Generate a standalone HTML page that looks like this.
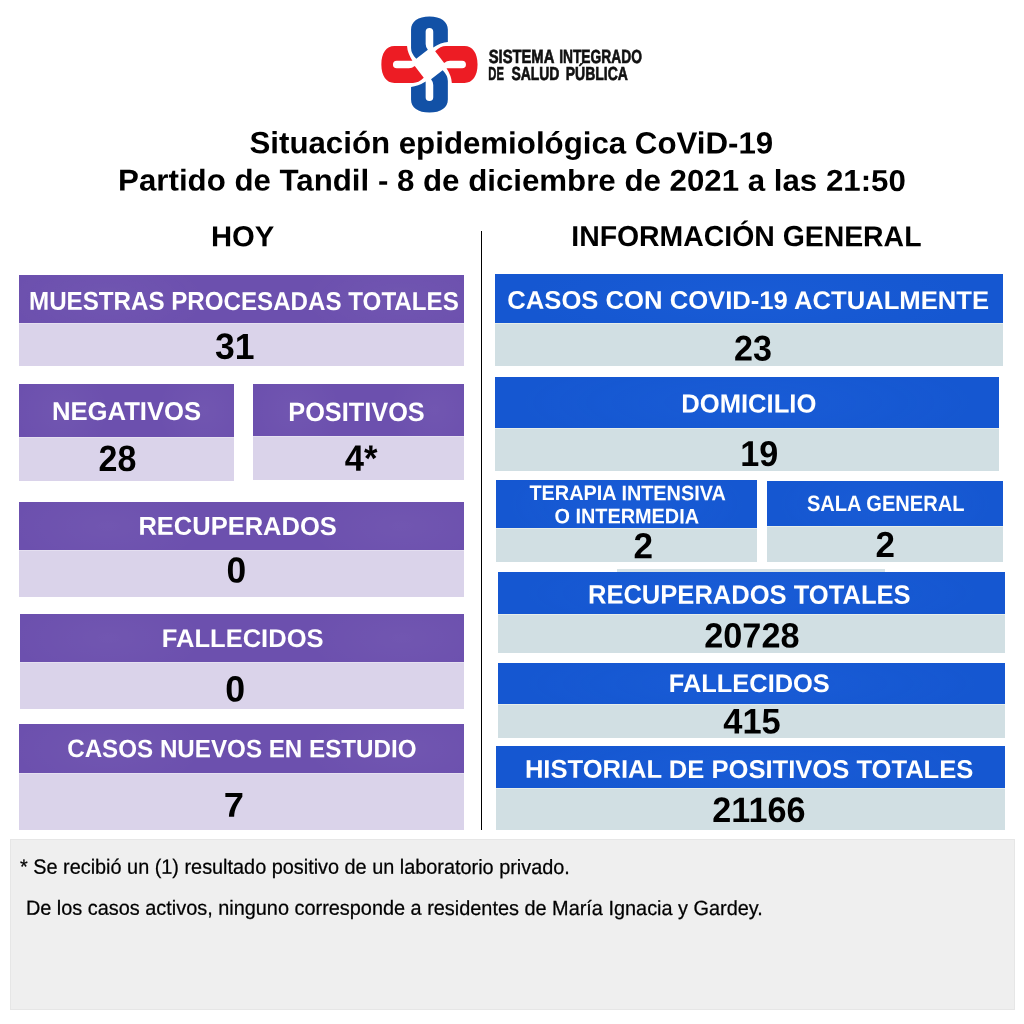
<!DOCTYPE html>
<html lang="es"><head><meta charset="utf-8"><title>Situación epidemiológica CoViD-19 - Partido de Tandil</title>
<style>
html,body{margin:0;padding:0;background:#fff}
#page{position:relative;width:1024px;height:1024px;overflow:hidden;background:#fff;font-family:"Liberation Sans",sans-serif}
h1,h2,p,strong{margin:0;padding:0}
.b{position:absolute}
.hp{background:radial-gradient(ellipse 22% 90% at 20% 50%,rgba(255,255,255,.035),rgba(255,255,255,0)),radial-gradient(ellipse 22% 90% at 86% 50%,rgba(255,255,255,.035),rgba(255,255,255,0)),#6c50ae}
.vp{background:#dad3ea;box-shadow:inset 0 1px 0 rgba(255,255,255,.28)}
.hb{background:radial-gradient(ellipse 45% 100% at 50% 50%,rgba(60,130,255,.10),rgba(60,130,255,0)),#1557d1}
.vb{background:#d1dfe3;box-shadow:inset 0 1px 0 rgba(255,255,240,.45)}
.t{position:absolute;left:0;top:0;white-space:pre;line-height:1em;transform-origin:0 0;display:block}
#note{position:absolute;left:9.5px;top:839px;width:1005.5px;height:171px;box-sizing:border-box;background:#efefef;border:1px solid #e6e6e6}
#vline{position:absolute;left:481px;top:231px;width:1.2px;height:599px;background:#000}
#logo{position:absolute;left:0;top:0}
#strip{left:617px;top:569.3px;width:268px;height:2.7px;background:#d6e2e6}
</style></head><body>
<div id="page">
<header>
<svg id="logo" width="1024" height="130" viewBox="0 0 1024 130">
<defs><path id="pc" d="M-18.4,-35 C-18.4,-43.1 -11.4,-48.1 0,-48.1 C11.4,-48.1 18.4,-43.1 18.4,-35 L18.4,-22.4 Q11.5,-22 3.8,-17.1 L3.8,-32.7 A3.8,3.8 0 0 0 -3.8,-32.7 L-3.8,-20.5 Q-3.8,-17.3 -1.6,-14.7 L-13.2,-5.7 Q-18.4,-11 -18.4,-16.5 Z"/></defs>
<g transform="translate(429.45,64.5)">
<use href="#pc" fill="#1251a6"/>
<use href="#pc" fill="#ed1c24" transform="rotate(90)"/>
<use href="#pc" fill="#1251a6" transform="rotate(180)"/>
<use href="#pc" fill="#ed1c24" transform="rotate(270)"/>
</g>
</svg>
<div class="org"><span class="t" style="font-size:19.0px;font-weight:bold;color:#111;-webkit-text-stroke:0.65px #111;transform:translate(488.72px,46.58px) rotate(.03deg) scaleX(0.7769)">SISTEMA</span> <span class="t" style="font-size:19.0px;font-weight:bold;color:#111;-webkit-text-stroke:0.65px #111;transform:translate(559.17px,46.58px) rotate(.03deg) scaleX(0.7255)">INTEGRADO</span><br><span class="t" style="font-size:18.84px;font-weight:bold;color:#111;-webkit-text-stroke:0.65px #111;transform:translate(488.35px,64.60px) rotate(.03deg) scaleX(0.5948)">DE</span> <span class="t" style="font-size:18.84px;font-weight:bold;color:#111;-webkit-text-stroke:0.65px #111;transform:translate(511.42px,64.59px) rotate(.03deg) scaleX(0.7403)">SALUD</span> <span class="t" style="font-size:18.84px;font-weight:bold;color:#111;-webkit-text-stroke:0.65px #111;transform:translate(565.71px,64.58px) rotate(.03deg) scaleX(0.7429)">PÚBLICA</span></div>
<h1 class="t" style="font-size:30.63px;font-weight:bold;color:#000;transform:translate(249.48px,127.31px) rotate(.03deg) scaleX(1.0201)">Situación epidemiológica CoViD-19</h1>
<h1 class="t" style="font-size:30.14px;font-weight:bold;color:#000;transform:translate(118.12px,165.49px) rotate(.03deg) scaleX(1.0370)">Partido de Tandil - 8 de diciembre de 2021 a las 21:50</h1>
</header>
<main>
<section id="hoy">
<h2 class="t" style="font-size:28.86px;font-weight:bold;color:#000;transform:translate(210.93px,222.17px) rotate(.03deg) scaleX(1.0126)">HOY</h2>
<article class="card">
<div class="b hp" style="left:19px;top:275px;width:445px;height:48.4px"></div>
<span class="t lbl" style="font-size:25.71px;font-weight:bold;color:#fff;transform:translate(29.03px,288.78px) rotate(.03deg) scaleX(0.9394)">MUESTRAS PROCESADAS TOTALES</span>
<div class="b vp" style="left:18.5px;top:323.4px;width:445.5px;height:42.8px"></div>
<strong class="t num" style="font-size:36.48px;font-weight:bold;color:#000;transform:translate(215.00px,328.87px) rotate(.03deg) scaleX(0.9750)">31</strong>
</article>
<article class="card">
<div class="b hp" style="left:19px;top:384px;width:215px;height:52.5px"></div>
<span class="t lbl" style="font-size:25.71px;font-weight:bold;color:#fff;transform:translate(51.93px,398.95px) rotate(.03deg) scaleX(0.9982)">NEGATIVOS</span>
<div class="b vp" style="left:19px;top:436.5px;width:215px;height:44.5px"></div>
<strong class="t num" style="font-size:36.57px;font-weight:bold;color:#000;transform:translate(98.53px,440.93px) rotate(.03deg) scaleX(0.9297)">28</strong>
</article>
<article class="card">
<div class="b hp" style="left:253px;top:384px;width:211px;height:51.5px"></div>
<span class="t lbl" style="font-size:26.43px;font-weight:bold;color:#fff;transform:translate(288.27px,398.98px) rotate(.03deg) scaleX(0.9582)">POSITIVOS</span>
<div class="b vp" style="left:253px;top:435.5px;width:211px;height:44.0px"></div>
<strong class="t num" style="font-size:36.67px;font-weight:bold;color:#000;transform:translate(344.74px,440.79px) rotate(.03deg) scaleX(0.9438)">4*</strong>
</article>
<article class="card">
<div class="b hp" style="left:19px;top:502px;width:445px;height:47.5px"></div>
<span class="t lbl" style="font-size:25.94px;font-weight:bold;color:#fff;transform:translate(138.39px,513.82px) rotate(.03deg) scaleX(0.9832)">RECUPERADOS</span>
<div class="b vp" style="left:19px;top:549.5px;width:445px;height:47.5px"></div>
<strong class="t num" style="font-size:36.06px;font-weight:bold;color:#000;transform:translate(226.56px,552.41px) rotate(.03deg) scaleX(0.9819)">0</strong>
</article>
<article class="card">
<div class="b hp" style="left:20px;top:614px;width:444px;height:47.75px"></div>
<span class="t lbl" style="font-size:25.57px;font-weight:bold;color:#fff;transform:translate(161.81px,625.96px) rotate(.03deg) scaleX(0.9992)">FALLECIDOS</span>
<div class="b vp" style="left:20px;top:661.75px;width:444px;height:47.25px"></div>
<strong class="t num" style="font-size:36.48px;font-weight:bold;color:#000;transform:translate(225.36px,671.39px) rotate(.03deg) scaleX(0.9785)">0</strong>
</article>
<article class="card">
<div class="b hp" style="left:19px;top:724px;width:445px;height:49px"></div>
<span class="t lbl" style="font-size:25.07px;font-weight:bold;color:#fff;transform:translate(67.21px,736.11px) rotate(.03deg) scaleX(0.9647)">CASOS NUEVOS EN ESTUDIO</span>
<div class="b vp" style="left:19px;top:773px;width:445px;height:57.4px"></div>
<strong class="t num" style="font-size:34.43px;font-weight:bold;color:#000;transform:translate(223.76px,787.85px) rotate(.03deg) scaleX(1.0547)">7</strong>
</article>
</section>
<div id="vline"></div>
<section id="general">
<h2 class="t" style="font-size:28.86px;font-weight:bold;color:#000;transform:translate(571.29px,222.01px) rotate(.03deg) scaleX(0.9839)">INFORMACIÓN GENERAL</h2>
<div class="b" id="strip"></div>
<article class="card">
<div class="b hb" style="left:495.3px;top:274.3px;width:507.7px;height:48.4px"></div>
<span class="t lbl" style="font-size:25.49px;font-weight:bold;color:#fff;transform:translate(507.34px,287.77px) rotate(.03deg) scaleX(1.0055)">CASOS CON COVID-19 ACTUALMENTE</span>
<div class="b vb" style="left:495.3px;top:322.7px;width:507.7px;height:42.9px"></div>
<strong class="t num" style="font-size:35.71px;font-weight:bold;color:#000;transform:translate(733.94px,331.51px) rotate(.03deg) scaleX(0.9548)">23</strong>
</article>
<article class="card">
<div class="b hb" style="left:495px;top:377px;width:504.25px;height:51px"></div>
<span class="t lbl" style="font-size:26.09px;font-weight:bold;color:#fff;transform:translate(681.27px,390.47px) rotate(.03deg) scaleX(0.9815)">DOMICILIO</span>
<div class="b vb" style="left:495px;top:428px;width:504.25px;height:43px"></div>
<strong class="t num" style="font-size:35.94px;font-weight:bold;color:#000;transform:translate(740.33px,435.93px) rotate(.03deg) scaleX(0.9515)">19</strong>
</article>
<article class="card">
<div class="b hb" style="left:495.75px;top:480px;width:261.25px;height:47.5px"></div>
<span class="t lbl" style="font-size:21.0px;font-weight:bold;color:#fff;transform:translate(529.46px,482.08px) rotate(.03deg) scaleX(0.9455)">TERAPIA INTENSIVA</span>
<span class="t lbl" style="font-size:20.93px;font-weight:bold;color:#fff;transform:translate(554.53px,506.31px) rotate(.03deg) scaleX(0.9489)">O INTERMEDIA</span>
<div class="b vb" style="left:495.75px;top:527.5px;width:261.25px;height:34.5px"></div>
<strong class="t num" style="font-size:36.21px;font-weight:bold;color:#000;transform:translate(633.48px,528.15px) rotate(.03deg) scaleX(0.9700)">2</strong>
</article>
<article class="card">
<div class="b hb" style="left:767px;top:480.5px;width:236px;height:45.5px"></div>
<span class="t lbl" style="font-size:22.18px;font-weight:bold;color:#fff;transform:translate(806.90px,492.99px) rotate(.03deg) scaleX(0.9052)">SALA GENERAL</span>
<div class="b vb" style="left:767px;top:526px;width:236px;height:35.75px"></div>
<strong class="t num" style="font-size:36.14px;font-weight:bold;color:#000;transform:translate(875.62px,526.90px) rotate(.03deg) scaleX(0.9690)">2</strong>
</article>
<article class="card">
<div class="b hb" style="left:497.5px;top:572px;width:507.5px;height:41.75px"></div>
<span class="t lbl" style="font-size:26.52px;font-weight:bold;color:#fff;transform:translate(587.95px,581.58px) rotate(.03deg) scaleX(0.9633)">RECUPERADOS TOTALES</span>
<div class="b vb" style="left:497.5px;top:613.75px;width:507.5px;height:38.75px"></div>
<strong class="t num" style="font-size:35.0px;font-weight:bold;color:#000;transform:translate(704.31px,617.40px) rotate(.03deg) scaleX(0.9779)">20728</strong>
</article>
<article class="card">
<div class="b hb" style="left:497.5px;top:662.5px;width:507.5px;height:41.75px"></div>
<span class="t lbl" style="font-size:25.29px;font-weight:bold;color:#fff;transform:translate(668.83px,670.94px) rotate(.03deg) scaleX(1.0053)">FALLECIDOS</span>
<div class="b vb" style="left:497.5px;top:704.25px;width:507.5px;height:33.25px"></div>
<strong class="t num" style="font-size:35.65px;font-weight:bold;color:#000;transform:translate(723.32px,704.39px) rotate(.03deg) scaleX(0.9666)">415</strong>
</article>
<article class="card">
<div class="b hb" style="left:495.5px;top:746px;width:509.5px;height:42px"></div>
<span class="t lbl" style="font-size:25.64px;font-weight:bold;color:#fff;transform:translate(524.90px,756.81px) rotate(.03deg) scaleX(0.9978)">HISTORIAL DE POSITIVOS TOTALES</span>
<div class="b vb" style="left:495.5px;top:788px;width:509.5px;height:42px"></div>
<strong class="t num" style="font-size:35.36px;font-weight:bold;color:#000;transform:translate(712.28px,791.92px) rotate(.03deg) scaleX(0.9666)">21166</strong>
</article>
</section>
</main>
<footer>
<div id="note"></div>
<p class="t" style="font-size:20.69px;font-weight:normal;color:#000;-webkit-text-stroke:0.25px #000;transform:translate(20.00px,856.65px) rotate(.03deg) scaleX(0.9601)">* Se recibió un (1) resultado positivo de un laboratorio privado.</p>
<p class="t" style="font-size:20.51px;font-weight:normal;color:#000;-webkit-text-stroke:0.25px #000;transform:translate(25.93px,897.66px) rotate(.03deg) scaleX(0.9700)">De los casos activos, ninguno corresponde a residentes de María Ignacia y Gardey.</p>
</footer>
</div>
</body></html>
